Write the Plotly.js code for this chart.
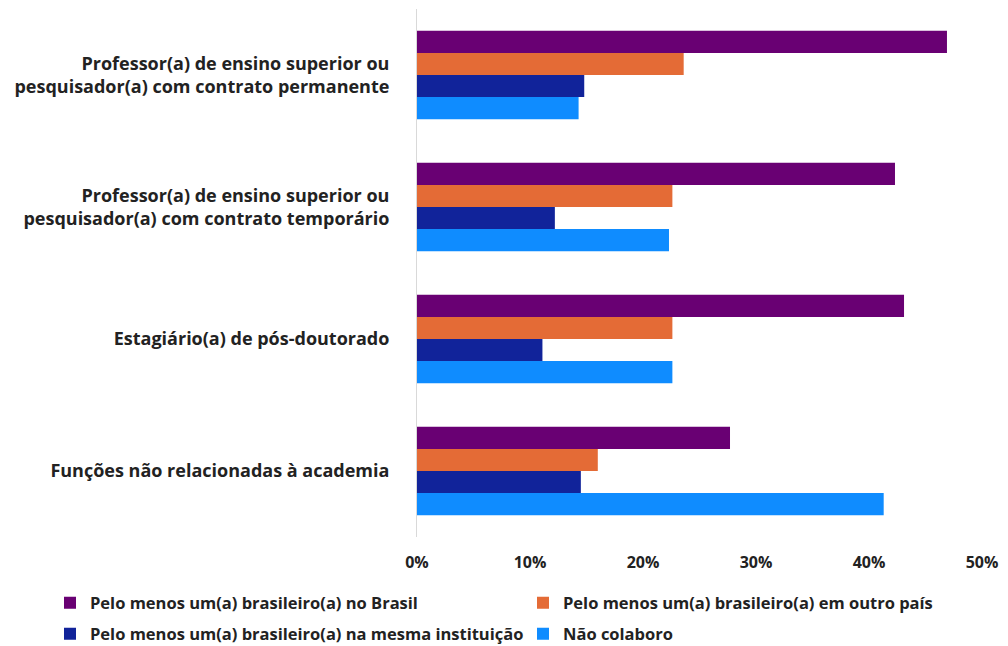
<!DOCTYPE html>
<html>
<head>
<meta charset="utf-8">
<script src="https://cdn.plot.ly/plotly-3.0.1.min.js"></script>
<style>html,body{margin:0;padding:0;background:#fff;}#chart{width:1008px;height:646px;}</style>
</head>
<body>
<div id="chart"></div>
<script>
var categories = [
  "Professor(a) de ensino superior ou<br>pesquisador(a) com contrato permanente",
  "Professor(a) de ensino superior ou<br>pesquisador(a) com contrato temporário",
  "Estagiário(a) de pós-doutorado",
  "Funções não relacionadas à academia"
];
var seriesNames = [
  "Pelo menos um(a) brasileiro(a) no Brasil",
  "Pelo menos um(a) brasileiro(a) em outro país",
  "Pelo menos um(a) brasileiro(a) na mesma instituição",
  "Não colaboro"
];
var noBrasil = [46.9, 42.3, 43.1, 27.7];
var outroPais = [23.6, 22.6, 22.6, 16.0];
var mesmaInstituicao = [14.8, 12.2, 11.1, 14.5];
var naoColaboro = [14.3, 22.3, 22.6, 41.3];
var colors = ["#690073", "#E46B36", "#11239A", "#0F8CFF"];
var values = [noBrasil, outroPais, mesmaInstituicao, naoColaboro];
var legendIds = ["legend", "legend", "legend2", "legend2"];

var traces = values.map(function(v, i){
  return {
    type: "bar", orientation: "h",
    y: categories, x: v, name: seriesNames[i],
    marker: {color: colors[i]},
    legend: legendIds[i],
    hoverinfo: "x+name"
  };
});

var fontFam = "'Open Sans', 'Noto Sans', sans-serif";
var legendCommon = {
  orientation: "h", x: (50 - 417) / 565, xanchor: "left", yanchor: "middle",
  entrywidth: 428, entrywidthmode: "pixels",
  font: {family: fontFam, size: 16.5, color: "#222", weight: 700},
  itemwidth: 30, bgcolor: "rgba(0,0,0,0)", traceorder: "normal"
};
var leg1 = Object.assign({}, legendCommon, {y: -(603 - 537) / 528});
var leg2 = Object.assign({}, legendCommon, {y: -(634 - 537) / 528});

var layout = {
  width: 1008, height: 646,
  margin: {l: 417, r: 26, t: 9, b: 109, autoexpand: false},
  paper_bgcolor: "#fff", plot_bgcolor: "#fff",
  barmode: "group", bargap: 0.33, bargroupgap: 0,
  font: {family: fontFam, color: "#222"},
  xaxis: {
    range: [0, 50], dtick: 10, tick0: 0, ticksuffix: "%",
    showgrid: false, zeroline: false, showline: false,
    ticks: "", ticklabelstandoff: 14,
    tickfont: {family: fontFam, size: 16, color: "#222", weight: 700},
    fixedrange: true
  },
  yaxis: {
    autorange: "reversed", showgrid: false, zeroline: false,
    showline: true, linecolor: "#d9d9d9", linewidth: 1,
    ticks: "", ticklabelstandoff: 23,
    tickfont: {family: fontFam, size: 18, color: "#222", weight: 700},
    fixedrange: true
  },
  showlegend: true,
  legend: leg1,
  legend2: leg2
};

Plotly.newPlot("chart", traces, layout, {displayModeBar: false, staticPlot: true});
</script>
</body>
</html>
